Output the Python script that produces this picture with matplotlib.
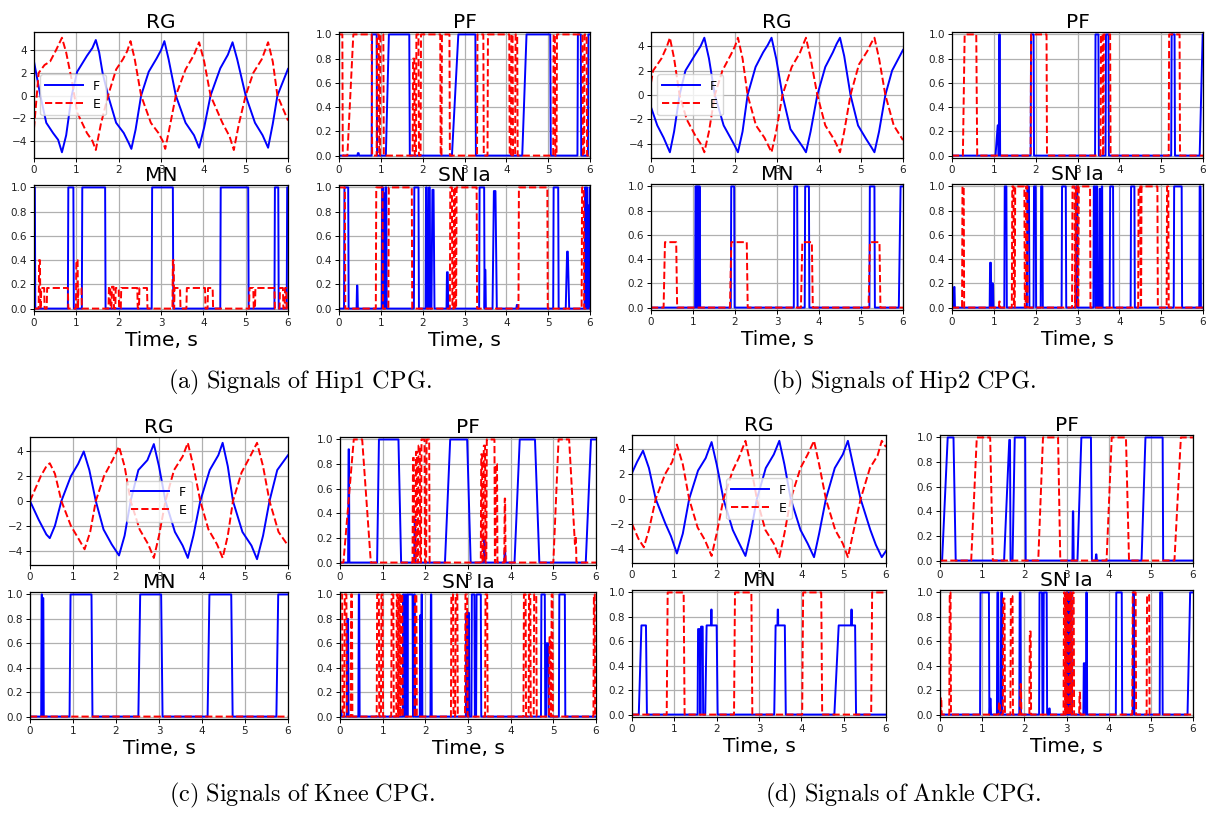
import numpy as np
import matplotlib
matplotlib.use("Agg")
import matplotlib.pyplot as plt

plt.rcParams['mathtext.fontset'] = 'cm'
plt.rcParams['font.family'] = ['DejaVu Sans']

# ---------------- DATA ----------------
TIME_TICKS = [0, 1, 2, 3, 4, 5, 6]
SUB_TITLES = ["RG", "PF", "MN", "SN Ia"]
SERIES = ["F", "E"]
CAPTIONS = ["(a) Signals of Hip1 CPG.", "(b) Signals of Hip2 CPG.",
            "(c) Signals of Knee CPG.", "(d) Signals of Ankle CPG."]

# --- Hip1 RG ---
HIP1_RG_TF = [0, 0.15, 0.29, 0.45, 0.57, 0.66, 0.76, 0.89, 1.02, 1.25, 1.38, 1.46, 1.54, 1.62, 1.75, 1.94, 2.12, 2.24, 2.30, 2.40, 2.53, 2.71, 2.90, 3.00, 3.08, 3.18, 3.35, 3.58, 3.78, 3.90, 4.02, 4.17, 4.40, 4.58, 4.69, 4.80, 5.00, 5.22, 5.40, 5.53, 5.64, 5.75, 6.0]
HIP1_RG_F = [3.0, 0.0, -2.4, -3.3, -3.9, -5.0, -3.5, 0.0, 2.1, 3.5, 4.2, 4.9, 3.8, 2.0, 0.0, -2.4, -3.3, -4.2, -4.7, -3.0, 0.0, 2.1, 3.3, 4.0, 4.8, 3.2, 0.0, -2.4, -3.5, -4.6, -2.8, 0.0, 2.4, 3.6, 4.7, 3.2, 0.0, -2.4, -3.5, -4.6, -2.5, 0.0, 2.35]
HIP1_RG_TE = [0, 0.11, 0.25, 0.38, 0.52, 0.66, 0.76, 0.89, 1.02, 1.25, 1.38, 1.46, 1.58, 1.75, 1.94, 2.10, 2.20, 2.28, 2.38, 2.53, 2.76, 2.94, 3.04, 3.10, 3.22, 3.35, 3.58, 3.78, 3.90, 4.02, 4.17, 4.45, 4.62, 4.72, 4.84, 5.00, 5.18, 5.38, 5.53, 5.64, 5.75, 6.0]
HIP1_RG_E = [-2.9, 2.0, 2.7, 3.0, 4.0, 5.1, 3.8, 1.4, -1.5, -3.3, -4.0, -4.8, -2.5, 0.0, 2.3, 3.2, 3.9, 4.8, 3.2, 0.0, -2.4, -3.3, -4.0, -4.7, -2.5, 0.0, 2.3, 3.6, 4.7, 3.0, 0.0, -2.4, -3.6, -4.8, -2.5, 0.0, 2.0, 3.2, 4.7, 3.0, 0.0, -2.2]

# pulses: (on, off, height[, rise, fall])
HIP1_PF_F = [(0.44, 0.47, 0.02), (0.78, 0.90, 1.0), (1.12, 1.68, 1.0, 0.07, 0.01), (2.70, 3.26, 1.0, 0.15, 0.01),
             (4.38, 5.05, 1.0, 0.10, 0.01), (5.70, 5.78, 1.0), (5.95, 6.05, 1.0)]
HIP1_PF_E = [(-0.01, 0.08, 1.0), (0.20, 0.78, 1.0, 0.14, 0.01), (0.90, 0.95, 1.0), (0.98, 1.06, 1.0),
             (1.76, 1.80, 0.8), (1.84, 1.90, 1.0), (1.95, 2.42, 1.0), (2.45, 2.64, 1.0), (3.30, 3.45, 1.0),
             (3.55, 4.07, 1.0), (4.11, 4.15, 1.0), (4.21, 4.26, 1.0), (5.12, 5.16, 1.0), (5.20, 5.82, 1.0),
             (5.86, 5.92, 1.0)]
HIP1_MN_F = [(-0.01, 0.02, 1.0), (0.80, 0.93, 1.0), (1.13, 1.68, 1.0), (2.78, 3.28, 1.0), (4.40, 5.06, 1.0),
             (5.68, 5.77, 1.0), (5.97, 6.05, 1.0)]
HIP1_MN_E = [(0.11, 0.14, 0.40), (0.16, 0.24, 0.17), (0.30, 0.80, 0.17), (0.99, 1.03, 0.40), (1.04, 1.12, 0.17),
             (1.76, 1.80, 0.18), (1.83, 1.88, 0.18), (1.92, 2.00, 0.17), (2.05, 2.44, 0.17), (2.48, 2.67, 0.17),
             (3.27, 3.30, 0.40), (3.31, 3.45, 0.17), (3.60, 4.04, 0.17), (4.10, 4.22, 0.17), (5.08, 5.18, 0.17),
             (5.22, 5.68, 0.17), (5.80, 5.88, 0.17), (5.92, 5.96, 0.17)]
HIP1_SN_F = [(0.12, 0.22, 1.0), (0.42, 0.44, 0.19), (1.02, 1.05, 1.0), (1.06, 1.08, 0.95), (1.10, 1.13, 1.0),
             (1.79, 1.90, 1.0), (2.07, 2.10, 1.0), (2.11, 2.13, 0.3), (2.14, 2.17, 1.0), (2.21, 2.26, 0.98, 0.02, 0.02),
             (2.57, 2.60, 0.3), (3.35, 3.47, 1.0), (3.48, 3.50, 0.32), (3.67, 3.74, 0.97, 0.03, 0.03),
             (4.24, 4.27, 0.03), (5.12, 5.24, 1.0), (5.42, 5.47, 0.47, 0.03, 0.03), (5.87, 5.89, 1.0),
             (5.91, 5.93, 1.0), (5.95, 5.97, 0.85), (5.98, 6.05, 1.0)]
HIP1_SN_E = [(-0.01, 0.14, 1.0), (0.88, 1.04, 1.0), (1.18, 1.74, 1.0), (2.65, 2.70, 1.0), (2.74, 2.77, 1.0),
             (2.80, 3.29, 1.0), (4.29, 4.98, 1.0), (5.80, 5.85, 1.0)]

# --- Hip2 ---
HIP2_RG_TF = [0, 0.15, 0.3, 0.45, 0.55, 0.68, 0.82, 1.05, 1.18, 1.27, 1.38, 1.52, 1.73, 1.89, 2.0, 2.07, 2.18, 2.3, 2.49, 2.67, 2.78, 2.87, 2.98, 3.13, 3.32, 3.5, 3.62, 3.69, 3.8, 3.96, 4.15, 4.33, 4.42, 4.5, 4.6, 4.75, 4.93, 5.12, 5.25, 5.32, 5.43, 5.58, 5.74, 6.0]
HIP2_RG_F = [-1.0, -2.5, -3.5, -4.7, -3.0, 0.0, 2.0, 3.3, 4.0, 4.7, 3.0, 0.0, -2.5, -3.5, -4.2, -4.7, -3.0, 0.0, 2.3, 3.5, 4.1, 4.7, 3.0, 0.0, -2.8, -3.7, -4.3, -4.7, -3.0, 0.0, 2.3, 3.5, 4.2, 4.7, 3.2, 0.0, -2.5, -3.6, -4.3, -4.7, -3.0, 0.0, 2.0, 3.7]
HIP2_RG_TE = [0, 0.05, 0.25, 0.38, 0.45, 0.55, 0.68, 0.85, 1.05, 1.2, 1.27, 1.38, 1.52, 1.7, 1.9, 2.0, 2.07, 2.18, 2.3, 2.5, 2.7, 2.8, 2.87, 2.98, 3.13, 3.35, 3.55, 3.63, 3.69, 3.8, 3.96, 4.15, 4.35, 4.45, 4.5, 4.6, 4.75, 4.95, 5.15, 5.25, 5.32, 5.43, 5.58, 5.78, 6.0]
HIP2_RG_E = [1.0, 2.0, 3.0, 4.0, 4.7, 3.0, 0.0, -2.0, -3.3, -4.1, -4.7, -3.0, 0.0, 2.0, 3.3, 4.0, 4.7, 3.0, 0.0, -2.5, -3.5, -4.2, -4.7, -3.0, 0.0, 2.3, 3.5, 4.2, 4.7, 3.0, 0.0, -2.5, -3.6, -4.3, -4.7, -3.0, 0.0, 2.5, 3.6, 4.3, 4.7, 3.0, 0.0, -2.5, -3.7]
HIP2_PF_F = [(1.04, 1.10, 0.25, 0.05, 0.01), (1.12, 1.14, 1.0), (1.88, 1.95, 1.0), (3.42, 3.50, 1.0),
             (3.67, 3.74, 1.0), (5.24, 5.32, 1.0), (5.92, 6.05, 1.0, 0.07, 0.01)]
HIP2_PF_E = [(0.26, 0.58, 1.0, 0.04, 0.02), (1.88, 2.26, 1.0), (3.55, 3.60, 1.0), (3.62, 3.78, 1.0),
             (5.18, 5.44, 1.0)]
HIP2_MN_F = [(1.05, 1.07, 1.0), (1.08, 1.10, 1.0), (1.11, 1.13, 1.0), (1.14, 1.16, 1.0), (1.90, 1.98, 1.0),
             (3.40, 3.48, 1.0), (3.66, 3.76, 1.0), (5.20, 5.32, 1.0), (5.90, 6.05, 1.0, 0.04, 0.01)]
HIP2_MN_E = [(0.30, 0.60, 0.54, 0.03, 0.02), (1.88, 2.28, 0.54, 0.03, 0.02), (3.57, 3.83, 0.54, 0.03, 0.02),
             (5.18, 5.44, 0.54, 0.03, 0.02)]
HIP2_SN_F = [(0.04, 0.06, 0.17), (0.90, 0.93, 0.37), (0.94, 0.98, 0.2), (1.25, 1.30, 1.0), (1.79, 1.84, 1.0),
             (1.95, 2.00, 1.0), (2.12, 2.16, 1.0), (2.62, 2.72, 1.0), (2.96, 2.99, 1.0), (3.38, 3.42, 1.0),
             (3.44, 3.47, 1.0), (3.52, 3.54, 0.98), (3.57, 3.59, 1.0), (3.77, 3.85, 1.0), (4.27, 4.36, 1.0),
             (5.30, 5.49, 1.0), (5.91, 5.94, 1.0)]
HIP2_SN_E = [(0.24, 0.28, 1.0), (1.12, 1.14, 0.05), (1.43, 1.47, 1.0), (1.50, 1.73, 1.0), (1.76, 1.80, 1.0),
             (2.87, 2.93, 1.0), (2.95, 3.00, 1.0), (3.02, 3.30, 1.0), (4.45, 4.50, 1.0), (4.52, 4.91, 1.0),
             (5.13, 5.17, 1.0)]

# --- Knee ---
KNEE_RG_TF = [0, 0.2, 0.38, 0.46, 0.58, 0.73, 0.95, 1.12, 1.25, 1.38, 1.53, 1.71, 1.9, 2.07, 2.2, 2.34, 2.52, 2.73, 2.88, 3.0, 3.15, 3.37, 3.55, 3.67, 3.8, 3.96, 4.18, 4.38, 4.48, 4.6, 4.72, 4.94, 5.15, 5.28, 5.42, 5.57, 5.75, 6.0]
KNEE_RG_F = [0.0, -1.5, -2.7, -3.0, -2.0, 0.0, 2.0, 3.0, 4.0, 2.5, 0.0, -2.3, -3.5, -4.4, -2.8, 0.0, 2.5, 3.3, 4.6, 2.8, 0.0, -2.5, -3.6, -4.6, -2.8, 0.0, 2.5, 3.7, 4.7, 2.8, 0.0, -2.5, -3.6, -4.7, -2.8, 0.0, 2.5, 3.7]
KNEE_RG_TE = [0, 0.25, 0.38, 0.46, 0.58, 0.73, 0.95, 1.12, 1.27, 1.4, 1.53, 1.72, 1.92, 2.07, 2.2, 2.34, 2.55, 2.75, 2.88, 3.0, 3.15, 3.35, 3.55, 3.67, 3.8, 3.96, 4.15, 4.35, 4.48, 4.6, 4.72, 4.92, 5.12, 5.28, 5.42, 5.57, 5.78, 6.0]
KNEE_RG_E = [0.0, 2.0, 2.8, 3.05, 2.2, 0.0, -2.0, -3.0, -3.9, -2.5, 0.0, 2.0, 3.3, 4.4, 2.8, 0.0, -2.3, -3.5, -4.6, -2.8, 0.0, 2.5, 3.6, 4.7, 2.8, 0.0, -2.3, -3.5, -4.6, -2.8, 0.0, 2.3, 3.6, 4.7, 2.8, 0.0, -2.5, -3.6]
KNEE_PF_F = [(0.19, 0.21, 0.92), (0.87, 1.37, 1.0, 0.04, 0.06), (1.74, 1.76, 0.35), (2.46, 2.98, 1.0, 0.12, 0.08),
             (3.37, 3.39, 0.2), (3.85, 3.87, 0.1), (4.09, 4.57, 1.0, 0.12, 0.10), (5.76, 6.05, 1.0, 0.12, 0.01)]
KNEE_PF_E = [(0.08, 0.52, 1.0, 0.24, 0.20), (1.70, 1.73, 0.85), (1.77, 1.80, 0.9), (1.83, 1.87, 0.95),
             (1.90, 1.98, 1.0), (2.02, 2.09, 1.0), (3.30, 3.33, 0.88), (3.36, 3.40, 0.95), (3.43, 3.62, 1.0),
             (3.64, 3.68, 0.8), (3.85, 3.87, 0.52), (5.00, 5.37, 1.0, 0.12, 0.16), (5.50, 5.53, 0.2)]
KNEE_MN_F = [(0.26, 0.28, 1.0), (0.29, 0.31, 0.97), (0.92, 1.43, 1.0, 0.02, 0.02), (2.52, 3.05, 1.0, 0.04, 0.03),
             (4.13, 4.68, 1.0, 0.04, 0.03), (5.73, 6.05, 1.0, 0.04, 0.01)]
KNEE_MN_E = []
KNEE_SN_F = [(0.01, 0.03, 0.05), (0.16, 0.19, 0.8), (0.43, 0.45, 1.0), (1.47, 1.49, 1.0), (1.51, 1.53, 1.0),
             (1.55, 1.57, 1.0), (1.58, 1.70, 1.0), (1.73, 1.75, 1.0), (1.87, 1.89, 0.83), (1.90, 1.92, 1.0),
             (2.12, 2.14, 1.0), (2.95, 2.97, 0.85), (3.00, 3.02, 0.85), (3.08, 3.15, 1.0), (3.19, 3.30, 1.0),
             (4.71, 4.80, 1.0), (4.83, 4.88, 0.6), (5.13, 5.27, 1.0)]
KNEE_SN_E = [(-0.01, 0.05, 1.0), (0.10, 0.15, 1.0), (0.25, 0.28, 1.0), (0.86, 0.91, 1.0), (0.96, 1.00, 1.0),
             (1.20, 1.25, 1.0), (1.32, 1.35, 1.0), (1.37, 1.40, 1.0), (1.42, 1.46, 1.0), (1.75, 1.79, 1.0),
             (2.60, 2.65, 1.0), (2.70, 2.75, 1.0), (2.93, 2.98, 1.0), (3.40, 3.45, 1.0), (4.30, 4.35, 1.0),
             (4.42, 4.46, 1.0), (4.54, 4.60, 1.0), (4.90, 4.93, 0.65), (4.95, 4.98, 1.0), (5.94, 5.97, 1.0)]

# --- Ankle ---
ANKLE_RG_TF = [0, 0.12, 0.26, 0.4, 0.56, 0.79, 0.92, 1.06, 1.2, 1.35, 1.56, 1.74, 1.88, 2.0, 2.16, 2.38, 2.52, 2.68, 2.8, 2.95, 3.16, 3.35, 3.48, 3.6, 3.75, 3.98, 4.15, 4.3, 4.42, 4.58, 4.79, 4.98, 5.1, 5.22, 5.4, 5.63, 5.76, 5.9, 6.0]
ANKLE_RG_F = [2.1, 3.0, 3.9, 2.5, 0.0, -2.0, -3.0, -4.4, -2.8, 0.0, 2.3, 3.3, 4.6, 2.8, 0.0, -2.5, -3.5, -4.6, -2.8, 0.0, 2.5, 3.6, 4.7, 2.8, 0.0, -2.5, -3.6, -4.7, -2.8, 0.0, 2.5, 3.6, 4.7, 2.8, 0.0, -2.5, -3.7, -4.7, -4.2]
ANKLE_RG_TE = [0, 0.15, 0.28, 0.4, 0.56, 0.78, 0.95, 1.06, 1.2, 1.35, 1.55, 1.72, 1.88, 2.0, 2.16, 2.38, 2.52, 2.68, 2.8, 2.95, 3.15, 3.35, 3.48, 3.6, 3.75, 3.98, 4.15, 4.3, 4.42, 4.58, 4.8, 4.98, 5.1, 5.22, 5.4, 5.62, 5.8, 5.9, 6.0]
ANKLE_RG_E = [-2.0, -3.2, -3.9, -2.5, 0.0, 2.0, 3.0, 4.4, 2.8, 0.0, -2.3, -3.3, -4.6, -2.8, 0.0, 2.3, 3.3, 4.7, 2.8, 0.0, -2.5, -3.6, -4.7, -2.8, 0.0, 2.5, 3.6, 4.7, 2.8, 0.0, -2.5, -3.6, -4.7, -2.8, 0.0, 2.5, 3.5, 4.7, 4.2]
ANKLE_PF_F = [(0.05, 0.32, 1.0, 0.13, 0.05), (1.52, 1.66, 0.98, 0.12, 0.01), (1.72, 2.02, 1.0, 0.05, 0.01),
              (3.14, 3.16, 0.4), (3.26, 3.58, 1.0, 0.09, 0.02), (3.69, 3.71, 0.05), (4.78, 5.28, 1.0, 0.09, 0.01)]
ANKLE_PF_E = [(0.74, 1.19, 1.0, 0.13, 0.06), (2.33, 2.80, 1.0, 0.11, 0.05), (3.95, 4.41, 1.0, 0.12, 0.07),
              (5.56, 6.05, 1.0, 0.15, 0.01)]
ANKLE_MN_F = [(0.16, 0.33, 0.73, 0.06, 0.02), (1.55, 1.60, 0.70), (1.62, 1.67, 0.72), (1.73, 2.00, 0.73, 0.03, 0.02),
              (1.86, 1.88, 0.86), (3.36, 3.61, 0.73, 0.03, 0.02), (3.43, 3.45, 0.86), (4.78, 5.27, 0.73, 0.10, 0.02),
              (5.17, 5.19, 0.86)]
ANKLE_MN_E = [(0.82, 1.22, 1.0, 0.02, 0.02), (2.41, 2.82, 1.0, 0.02, 0.02), (4.02, 4.47, 1.0, 0.02, 0.02),
              (5.65, 6.05, 1.0, 0.02, 0.01)]
ANKLE_SN_F = [(0.95, 1.16, 1.0), (1.18, 1.20, 0.13), (1.35, 1.38, 1.0), (1.44, 1.47, 1.0), (1.88, 1.91, 1.0),
              (2.35, 2.42, 1.0), (2.45, 2.53, 1.0), (2.58, 2.60, 0.05), (2.98, 3.00, 1.0), (3.02, 3.04, 1.0),
              (3.06, 3.08, 1.0), (3.10, 3.12, 1.0), (3.40, 3.44, 0.42), (3.46, 3.48, 1.0), (4.17, 4.31, 1.0),
              (4.57, 4.60, 1.0), (5.21, 5.27, 1.0), (5.87, 6.05, 1.0, 0.06, 0.01)]
ANKLE_SN_E = [(0.01, 0.03, 0.14), (0.22, 0.25, 1.0), (1.39, 1.42, 0.1), (1.49, 1.53, 0.95), (1.67, 1.72, 0.97),
              (1.90, 1.92, 0.25), (2.12, 2.15, 0.68), (2.93, 2.96, 1.0), (2.98, 3.01, 1.0), (3.03, 3.06, 1.0),
              (3.08, 3.11, 1.0), (3.13, 3.17, 1.0), (3.30, 3.32, 0.18), (4.56, 4.64, 1.0), (4.90, 4.96, 0.98)]

PANELS = [
    dict(rg=(HIP1_RG_TF, HIP1_RG_F, HIP1_RG_TE, HIP1_RG_E),
         bins=[(HIP1_PF_F, HIP1_PF_E), (HIP1_MN_F, HIP1_MN_E), (HIP1_SN_F, HIP1_SN_E)]),
    dict(rg=(HIP2_RG_TF, HIP2_RG_F, HIP2_RG_TE, HIP2_RG_E),
         bins=[(HIP2_PF_F, HIP2_PF_E), (HIP2_MN_F, HIP2_MN_E), (HIP2_SN_F, HIP2_SN_E)]),
    dict(rg=(KNEE_RG_TF, KNEE_RG_F, KNEE_RG_TE, KNEE_RG_E),
         bins=[(KNEE_PF_F, KNEE_PF_E), (KNEE_MN_F, KNEE_MN_E), (KNEE_SN_F, KNEE_SN_E)]),
    dict(rg=(ANKLE_RG_TF, ANKLE_RG_F, ANKLE_RG_TE, ANKLE_RG_E),
         bins=[(ANKLE_PF_F, ANKLE_PF_E), (ANKLE_MN_F, ANKLE_MN_E), (ANKLE_SN_F, ANKLE_SN_E)]),
]

# ---------------- LAYOUT (pixels) ----------------
W, H = 1210, 813
AX_POS = [
    [(34, 32, 288, 158), (339, 32, 590, 158), (34, 185, 288, 311), (339, 185, 590, 311)],
    [(651, 32, 903, 158), (952, 32, 1203, 158), (651, 184, 903, 310), (952, 184, 1203, 310)],
    [(30, 437, 288, 565), (340, 437, 596, 565), (30, 592, 288, 719), (340, 592, 596, 719)],
    [(632, 435, 886, 563), (940, 435, 1193, 563), (632, 590, 886, 717), (940, 590, 1193, 717)],
]
CAP_POS = [(300, 382), (904, 382), (302, 795), (903, 795)]
LEG_LOC = ['center left', 'center left', 'center', 'center']

fig = plt.figure(figsize=(W / 100, H / 100), dpi=100)

tgrid = np.linspace(0, 6, 12001)


def pulse_signal(pulses):
    y = np.zeros_like(tgrid)
    for p in pulses:
        on, off, h = p[:3]
        ru = p[3] if len(p) > 3 else 0.008
        rd = p[4] if len(p) > 4 else 0.008
        y = np.maximum(y, np.interp(tgrid, [on, on + ru, off, off + rd], [0, h, h, 0], left=0, right=0))
    return y


def px_axes(l, t, r, b):
    return fig.add_axes([l / W, 1 - b / H, (r - l) / W, (b - t) / H])


def style(ax):
    ax.set_xlim(0, 6)
    ax.set_xticks(TIME_TICKS)
    ax.grid(True, color='#b0b0b0', lw=0.9)
    ax.set_axisbelow(True)
    ax.tick_params(labelsize=7.5, length=3, width=0.7, pad=2, labelcolor='#222222')
    for s in ax.spines.values():
        s.set_linewidth(0.9)


LW = 1.4
for i, panel in enumerate(PANELS):
    tf, f, te, e = panel['rg']
    ax = px_axes(*AX_POS[i][0])
    ax.plot(tf, f, color='#0000ff', lw=LW, label=SERIES[0], solid_joinstyle='round')
    ax.plot(te, e, color='#ff0000', lw=LW, ls='--', label=SERIES[1])
    style(ax)
    ax.set_yticks([-4, -2, 0, 2, 4])
    ax.set_title(SUB_TITLES[0], fontsize=14.5, pad=3)
    ax.legend(loc=LEG_LOC[i], fontsize=9, handlelength=3.0, borderpad=0.4, labelspacing=0.4,
              handletextpad=0.8)
    for j, (pf, pe) in enumerate(panel['bins']):
        ax = px_axes(*AX_POS[i][j + 1])
        ax.plot(tgrid, pulse_signal(pf), color='#0000ff', lw=LW)
        ax.plot(tgrid, pulse_signal(pe), color='#ff0000', lw=LW, ls='--')
        style(ax)
        ax.set_ylim(-0.02, 1.02)
        ax.set_yticks([0.0, 0.2, 0.4, 0.6, 0.8, 1.0])
        ax.set_title(SUB_TITLES[j + 1], fontsize=14.5, pad=3)
        if j >= 1:
            ax.set_xlabel("Time, s", fontsize=14.5, labelpad=2)
    cx, cy = CAP_POS[i]
    txt = CAPTIONS[i].replace(' ', r'\ ')
    fig.text(cx / W, 1 - cy / H, r'$\mathrm{' + txt + '}$', ha='center', va='center', fontsize=17.5)

fig.savefig('out.png', dpi=100)
